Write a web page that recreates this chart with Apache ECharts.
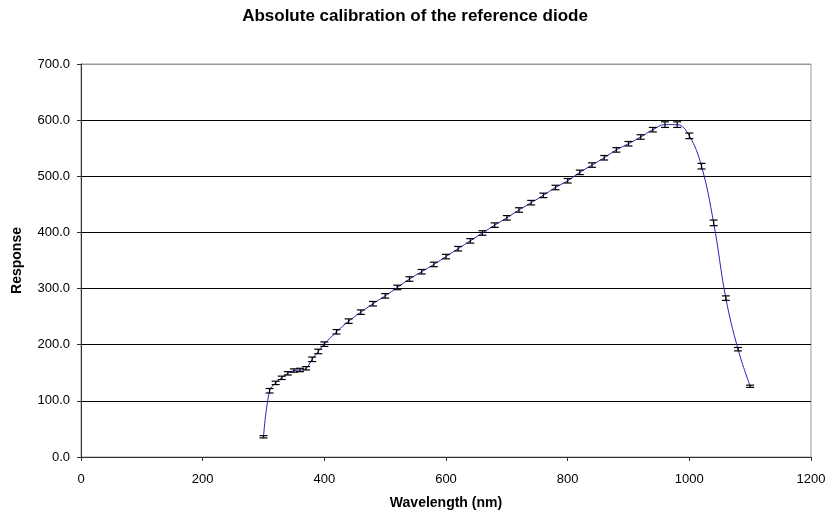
<!DOCTYPE html>
<html>
<head>
<meta charset="utf-8">
<script src="https://cdn.jsdelivr.net/npm/echarts@6/dist/echarts.min.js"></script>
<style>
html,body{margin:0;padding:0;background:#fff;}
#chart{width:829px;height:515px;}
</style>
</head>
<body>
<div id="chart"></div>
<script>
var wavelengths = [300,310,320,330,340,350,360,370,380,390,400,420,440,460,480,500,520,540,560,580,600,620,640,660,680,700,720,740,760,780,800,820,840,860,880,900,920,940,960,980,1000,1020,1040,1060,1080,1100];
var responses = [36,118,132,141,149,154,155,158,174,188,201,223,242,258,273,287,302,317,330,343,357,371,385,399,413,426,440,453,466,480,492,507,520,533,547,558,570,583,592,592,572,518,417,283,192,126];
var errors = [2,4,3,3,3,3,3,3,4,4,4,4,4,4,4,4,4,4,4,4,4,4,4,4,4,4,4,4,4,4,4,4,4,4,4,4,4,4,5,5,5,5,5,4,3,2];
var xTicks = [0,200,400,600,800,1000,1200];
var yTicks = [0,100,200,300,400,500,600,700];

var lineData = wavelengths.map(function(w,i){return [w,responses[i]];});
var errData = wavelengths.map(function(w,i){return [w,responses[i]-errors[i],responses[i]+errors[i]];});

var chart = echarts.init(document.getElementById('chart'));
var FONT = 'Liberation Sans, Arial, sans-serif';
chart.setOption({
  animation:false,
  backgroundColor:'#fff',
  title:{
    text:'Absolute calibration of the reference diode',
    left:410, top:3, textAlign:'center',
    textStyle:{fontFamily:FONT,fontSize:17,fontWeight:'bold',color:'#000'}
  },
  grid:{left:81,right:18,top:64,bottom:57,show:true,borderColor:'#999',borderWidth:1,backgroundColor:'#fff'},
  xAxis:{
    type:'value',min:xTicks[0],max:xTicks[xTicks.length-1],interval:xTicks[1]-xTicks[0],
    name:'Wavelength (nm)',nameLocation:'middle',nameGap:39,
    nameTextStyle:{fontFamily:FONT,fontSize:14,fontWeight:'bold',color:'#000'},
    axisLine:{show:true,lineStyle:{color:'#333',width:1}},
    axisTick:{show:true,length:4,inside:false,lineStyle:{color:'#333'}},
    axisLabel:{fontFamily:FONT,fontSize:13,color:'#000',margin:16,formatter:function(v){return String(v);}},
    splitLine:{show:false}
  },
  yAxis:{
    type:'value',min:yTicks[0],max:yTicks[yTicks.length-1],interval:yTicks[1]-yTicks[0],
    name:'Response',nameLocation:'middle',nameGap:57,nameRotate:90,
    nameTextStyle:{fontFamily:FONT,fontSize:14,fontWeight:'bold',color:'#000'},
    axisLine:{show:true,lineStyle:{color:'#333',width:1}},
    axisTick:{show:true,length:4,inside:false,lineStyle:{color:'#333'}},
    axisLabel:{fontFamily:FONT,fontSize:13,color:'#000',margin:11,formatter:function(v){return v.toFixed(1);}},
    splitLine:{show:true,lineStyle:{color:['#000','#000','#000','#000','#000','#000','#000','#999'],width:1}}
  },
  series:[
    {
      type:'line',data:lineData,smooth:0.4,showSymbol:false,
      lineStyle:{color:'#2626b8',width:1},z:2
    },
    {
      type:'custom',data:errData,z:3,
      encode:{x:0,y:[1,2]},
      renderItem:function(params,api){
        var x=api.value(0),lo=api.value(1),hi=api.value(2);
        var pLo=api.coord([x,lo]),pHi=api.coord([x,hi]);
        var hw=4;
        var st={stroke:'#000',lineWidth:1.2,fill:null};
        return {type:'group',children:[
          {type:'line',shape:{x1:pLo[0],y1:pLo[1],x2:pHi[0],y2:pHi[1]},style:st},
          {type:'line',shape:{x1:pLo[0]-hw,y1:pLo[1],x2:pLo[0]+hw,y2:pLo[1]},style:st},
          {type:'line',shape:{x1:pHi[0]-hw,y1:pHi[1],x2:pHi[0]+hw,y2:pHi[1]},style:st}
        ]};
      }
    }
  ]
});
</script>
</body>
</html>
